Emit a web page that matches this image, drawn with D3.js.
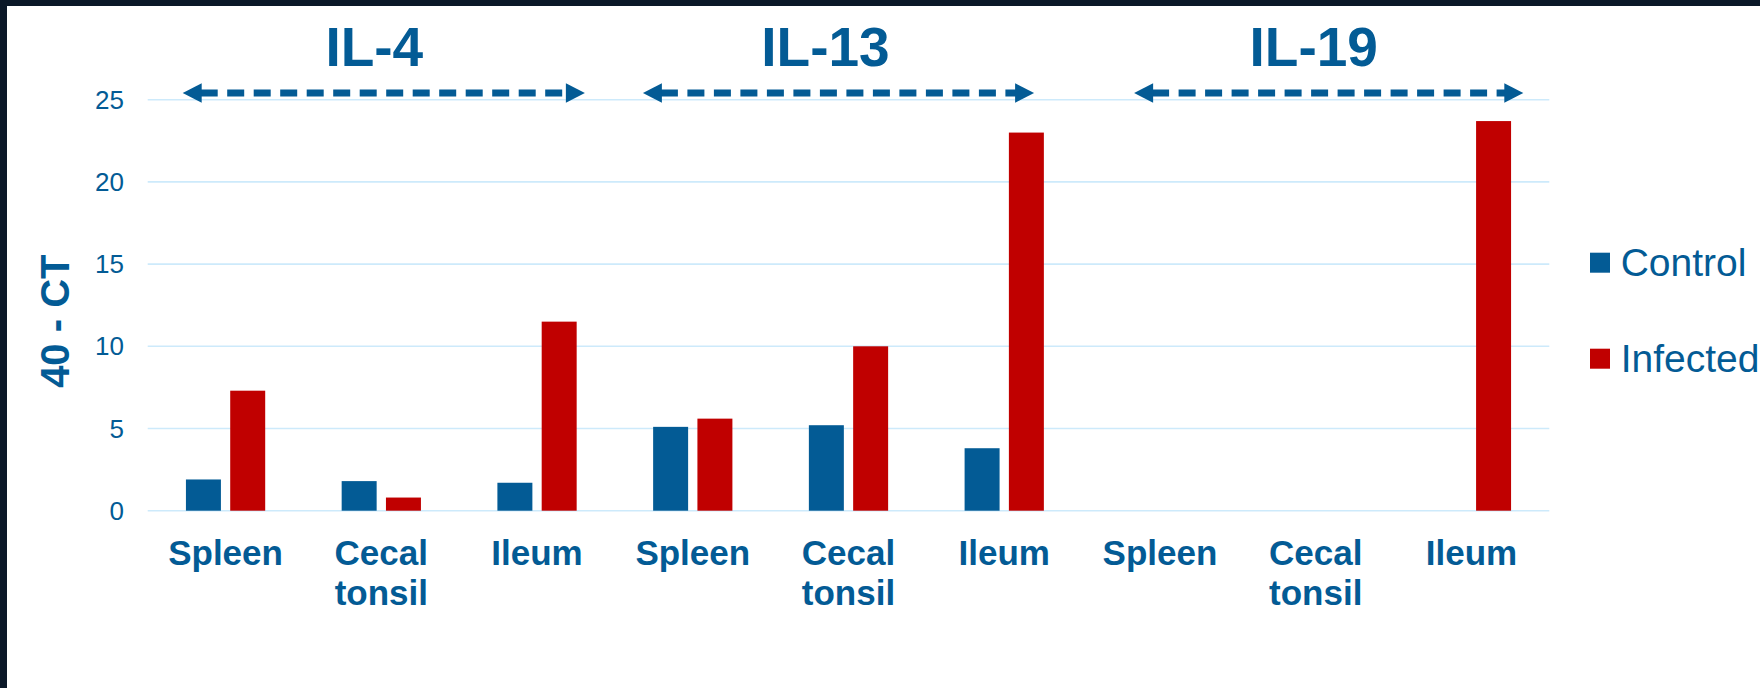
<!DOCTYPE html>
<html>
<head>
<meta charset="utf-8">
<script src="https://cdn.jsdelivr.net/npm/d3@7/dist/d3.min.js"></script>
<style>
	body { margin: 0; background: #0b1828; }
	svg { display: block; }
	text { font-family: "Liberation Sans", Arial, sans-serif; }
</style>
</head>
<body>
<svg id="chart"></svg>
<script>
// data
var genes = ["IL-4", "IL-13", "IL-19"];
var tissues = ["Spleen", "Cecal tonsil", "Ileum"];
var series = ["Control", "Infected"];
var control = [1.9, 1.8, 1.7, 5.1, 5.2, 3.8, 0, 0, 0];
var infected = [7.3, 0.8, 11.5, 5.6, 10.0, 23.0, 0, 0, 23.7];
var yTicks = [0, 5, 10, 15, 20, 25];
var yTitle = "40 - CT";

var width = 1760,
	height = 688;
var blue = "#035b95",
	red = "#c00000",
	gridColor = "#cdeafb";

// small hand tweaks, the titles and arrows on the slide are free text boxes
var titleNudge = [-7, -23, -2];
var arrowInset = [[35, 30], [28, 48], [52, 26]];

var keys = [];
genes.forEach(function(g) {
	tissues.forEach(function(t) { keys.push(g + "|" + t); });
});
var rows = keys.map(function(k, i) {
	return { key: k, gene: k.split("|")[0], tissue: k.split("|")[1], values: [control[i], infected[i]] };
});

var svg = d3.select("#chart")
	.attr("width", width)
	.attr("height", height);

svg.append("rect")
	.attr("width", width).attr("height", height)
	.attr("fill", "#0b1828");
svg.append("rect")
	.attr("x", 7).attr("y", 6)
	.attr("width", width - 7).attr("height", height - 6)
	.attr("fill", "#ffffff");

var x0 = d3.scaleBand()
	.domain(keys)
	.range([147.7, 1549.3])
	.paddingInner(0.491)
	.paddingOuter(0.2455);
var x1 = d3.scaleBand()
	.domain(series)
	.range([0, x0.bandwidth()])
	.paddingInner(0.21);
var y = d3.scaleLinear()
	.domain([0, 25])
	.range([510.7, 99.7]);
var color = d3.scaleOrdinal().domain(series).range([blue, red]);

// gridlines
svg.append("g")
	.attr("class", "grid")
	.selectAll("line")
	.data(yTicks)
	.enter().append("line")
	.attr("x1", x0.range()[0])
	.attr("x2", x0.range()[1])
	.attr("y1", function(d) { return y(d); })
	.attr("y2", function(d) { return y(d); })
	.attr("stroke", gridColor)
	.attr("stroke-width", 1.6);

// y tick labels
svg.append("g")
	.attr("class", "yticks")
	.selectAll("text")
	.data(yTicks)
	.enter().append("text")
	.attr("x", 124)
	.attr("y", function(d) { return y(d); })
	.attr("dy", "0.35em")
	.attr("text-anchor", "end")
	.attr("font-size", 26)
	.attr("fill", blue)
	.text(function(d) { return d; });

svg.append("text")
	.attr("transform", "translate(69.3," + ((y(15) + y(10)) / 2 + 16) + ") rotate(-90)")
	.attr("text-anchor", "middle")
	.attr("font-size", 40)
	.attr("font-weight", "bold")
	.attr("fill", blue)
	.text(yTitle);

// bars
var group = svg.append("g")
	.attr("class", "bars")
	.selectAll("g")
	.data(rows)
	.enter().append("g")
	.attr("transform", function(d) { return "translate(" + x0(d.key) + ",0)"; });
group.selectAll("rect")
	.data(function(d) {
		return series.map(function(s, i) { return { s: s, v: d.values[i] }; })
			.filter(function(b) { return b.v > 0; });
	})
	.enter().append("rect")
	.attr("x", function(b) { return x1(b.s); })
	.attr("y", function(b) { return y(b.v); })
	.attr("width", x1.bandwidth())
	.attr("height", function(b) { return y(0) - y(b.v); })
	.attr("fill", function(b) { return color(b.s); });

// category labels, wrapped on spaces
var xl = svg.append("g")
	.attr("class", "xlabels")
	.selectAll("text")
	.data(rows)
	.enter().append("text")
	.attr("text-anchor", "middle")
	.attr("font-size", 35)
	.attr("font-weight", "bold")
	.attr("fill", blue);
xl.each(function(d) {
	var t = d3.select(this);
	d.tissue.split(" ").forEach(function(word, i) {
		t.append("tspan")
			.attr("x", x0(d.key) + x0.bandwidth() / 2)
			.attr("y", 565 + i * 40)
			.text(word);
	});
});

// gene titles with dashed double arrows
var step = x0.step();
genes.forEach(function(g, gi) {
	var left = x0.range()[0] + gi * 3 * step,
		right = left + 3 * step,
		mid = (left + right) / 2;
	svg.append("text")
		.attr("x", mid + titleNudge[gi])
		.attr("y", 66)
		.attr("text-anchor", "middle")
		.attr("font-size", 55)
		.attr("font-weight", "bold")
		.attr("fill", blue)
		.text(g);

	var a = left + arrowInset[gi][0],
		b = right - arrowInset[gi][1],
		ay = 93,
		head = 19,
		half = 9.7;
	svg.append("line")
		.attr("x1", a + head - 1)
		.attr("x2", b - head + 1)
		.attr("y1", ay).attr("y2", ay)
		.attr("stroke", blue)
		.attr("stroke-width", 7)
		.attr("stroke-dasharray", "17,9.5");
	svg.append("path")
		.attr("d", "M" + a + "," + ay + "L" + (a + head) + "," + (ay - half) + "L" + (a + head) + "," + (ay + half) + "Z")
		.attr("fill", blue);
	svg.append("path")
		.attr("d", "M" + b + "," + ay + "L" + (b - head) + "," + (ay - half) + "L" + (b - head) + "," + (ay + half) + "Z")
		.attr("fill", blue);
});

// legend
var legend = svg.append("g")
	.attr("class", "legend")
	.selectAll("g")
	.data(series)
	.enter().append("g")
	.attr("transform", function(d, i) { return "translate(1590," + (252.7 + i * 96) + ")"; });
legend.append("rect")
	.attr("width", 20).attr("height", 20)
	.attr("fill", function(d) { return color(d); });
legend.append("text")
	.attr("x", 30.7)
	.attr("y", 23.3)
	.attr("font-size", 39)
	.attr("fill", blue)
	.text(function(d) { return d; });
</script>
</body>
</html>
